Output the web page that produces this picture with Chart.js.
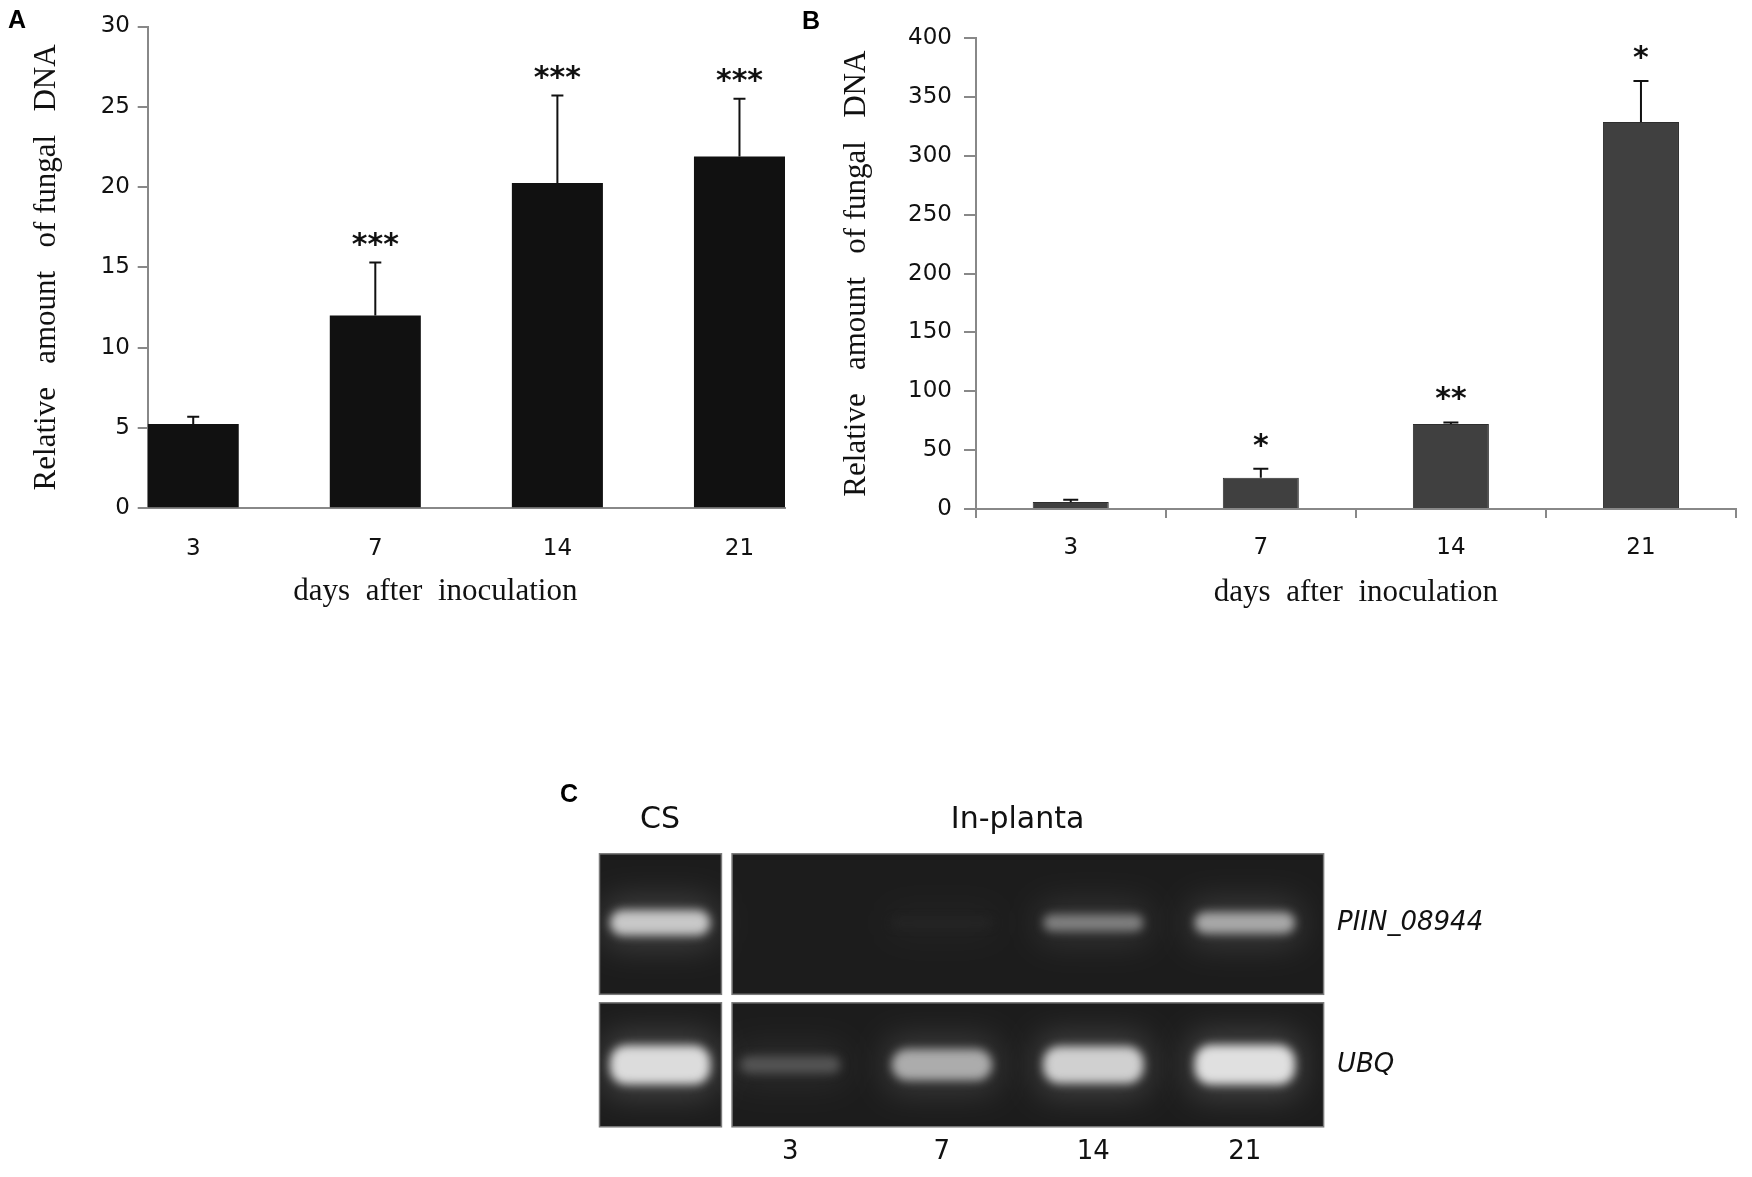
<!DOCTYPE html>
<html>
<head>
<meta charset="utf-8">
<script src="https://cdn.jsdelivr.net/npm/chart.js@4.4.1/dist/chart.umd.min.js"></script>
<style>
  body { margin: 0; background: #fff; width: 1752px; height: 1177px; position: relative; overflow: hidden; }
  .panel { position: absolute; }
  .tag { position: absolute; font: bold 25px "Liberation Sans", Arial, sans-serif; line-height: 25px; color: #000; }
</style>
</head>
<body>
<div class="panel" style="left:0;top:0;width:800px;height:620px"><canvas id="chartA"></canvas></div>
<div class="panel" style="left:800px;top:0;width:952px;height:620px"><canvas id="chartB"></canvas></div>
<div class="panel" style="left:540px;top:770px;width:1012px;height:407px"><canvas id="gelC"></canvas></div>
<div class="tag" style="left:8px;top:7px">A</div>
<div class="tag" style="left:802px;top:8px">B</div>
<div class="tag" style="left:560px;top:781px">C</div>

<script>
// x categories (days after inoculation)
const days = ['3', '7', '14', '21'];

// panel A
const fungalDnaA = [5.25, 12.0, 20.25, 21.9];
const fungalDnaSdA = [0.45, 3.3, 5.45, 3.6];
const signifA = ['', '***', '***', '***'];

// panel B
const fungalDnaB = [6.0, 26.6, 72.3, 328.8];
const fungalDnaSdB = [1.9, 7.7, 1.3, 35.0];
const signifB = ['', '*', '**', '*'];

// panel C (gel), band brightness 0..1 per lane
const gelLanes = ['CS', '3', '7', '14', '21'];
const gelGroups = ['CS', 'In-planta'];
const gelGenes = ['PIIN_08944', 'UBQ'];
const piinBands = [0.86, 0, 0.05, 0.5, 0.7];
const ubqBands = [0.96, 0.28, 0.72, 0.9, 0.98];

// layout of the gel panel, in lane units
const GEL_MIN = -0.26, GEL_MAX = 4.52, CS_POS = 0.14;
const GEL_ROWS = [2.04, 0.62];
const GEL_BG = 28;

const axisGrey = '#888';
const sans = "'DejaVu Sans', sans-serif";
const serif = "'Liberation Serif', 'Times New Roman', serif";
const tickFont = { family: sans, size: 23 };
const titleFont = { family: serif, size: 31 };

Chart.defaults.color = '#111';

const errorBars = {
    id: 'errorBars',
    afterDatasetsDraw(chart, args, opts) {
        const { ctx } = chart;
        const y = chart.scales.y;
        const ds = chart.data.datasets[0];
        const meta = chart.getDatasetMeta(0);
        ctx.save();
        ctx.strokeStyle = '#111';
        ctx.fillStyle = '#111';
        ctx.lineWidth = 2;
        ctx.font = `bold 30px ${sans}`;
        ctx.textAlign = 'center';
        ctx.textBaseline = 'alphabetic';
        meta.data.forEach((bar, i) => {
            const top = y.getPixelForValue(meta._parsed[i].y + ds.sd[i]);
            ctx.beginPath();
            ctx.moveTo(bar.x, bar.y);
            ctx.lineTo(bar.x, top);
            ctx.moveTo(bar.x - opts.cap / 2, top);
            ctx.lineTo(bar.x + opts.cap / 2, top);
            ctx.stroke();
            if (ds.signif[i]) ctx.fillText(ds.signif[i], bar.x, top - opts.gap + 16);
        });
        ctx.restore();
    }
};

function pill(ctx, x, y, w, h) {
    ctx.beginPath();
    ctx.roundRect(x, y, w, h, Math.min(h / 2, 16));
    ctx.fill();
}

function drawBand(ctx, cx, cy, level, laneW, thick) {
    const w = laneW * 0.66;
    const h = (8 + 32 * level) * thick;
    const g = Math.round(GEL_BG + 200 * level);
    ctx.fillStyle = `rgb(${g},${g},${g})`;
    // soft halo around the band
    ctx.globalCompositeOperation = 'lighter';
    ctx.filter = 'blur(16px)';
    ctx.globalAlpha = 0.18;
    pill(ctx, cx - w / 2 - 6, cy - h / 2 - 12, w + 12, h + 24);
    // band core
    ctx.globalCompositeOperation = 'source-over';
    ctx.filter = 'blur(5px)';
    ctx.globalAlpha = 1;
    pill(ctx, cx - w / 2, cy - h / 2, w, h);
    ctx.filter = 'none';
}

const gelPlate = {
    id: 'gelPlate',
    beforeDatasetsDraw(chart) {
        const { ctx, scales: { x, y } } = chart;
        const panels = [];
        [[GEL_MIN, 0.545], [0.615, GEL_MAX]].forEach(([x0, x1]) => {
            [[0, 1.24], [1.325, 2.73]].forEach(([y0, y1]) => {
                const l = x.getPixelForValue(x0), r = x.getPixelForValue(x1);
                const t = y.getPixelForValue(y1), b = y.getPixelForValue(y0);
                panels.push({ l, t, w: r - l, h: b - t });
            });
        });

        ctx.save();
        ctx.fillStyle = `rgb(${GEL_BG},${GEL_BG},${GEL_BG})`;
        panels.forEach(p => ctx.fillRect(p.l, p.t, p.w, p.h));
        ctx.beginPath();
        panels.forEach(p => ctx.rect(p.l, p.t, p.w, p.h));
        ctx.clip();
        const laneW = x.getPixelForValue(2) - x.getPixelForValue(1);
        chart.data.datasets.forEach((ds, di) => {
            chart.getDatasetMeta(di).data.forEach((pt, i) => {
                const level = ds.data[i].level;
                if (level > 0) drawBand(ctx, pt.x, pt.y, level, laneW, ds.thickness);
            });
        });
        ctx.restore();

        ctx.save();
        ctx.strokeStyle = '#7a7a7a';
        ctx.lineWidth = 1.5;
        panels.forEach(p => ctx.strokeRect(p.l, p.t, p.w, p.h));
        ctx.restore();
    }
};

const baseOptions = {
    responsive: true,
    maintainAspectRatio: false,
    animation: false,
    devicePixelRatio: 1,
    events: []
};

// A
new Chart(document.getElementById('chartA'), {
    type: 'bar',
    data: {
        datasets: [{
            data: days.map((d, i) => ({ x: i, y: fungalDnaA[i] })),
            backgroundColor: '#111',
            categoryPercentage: 1,
            barPercentage: 0.5,
            sd: fungalDnaSdA,
            signif: signifA
        }]
    },
    options: {
        ...baseOptions,
        layout: { padding: { left: 0, top: 26.5, right: 15, bottom: 0 } },
        plugins: { legend: { display: false }, tooltip: { enabled: false }, errorBars: { cap: 12, gap: 25 } },
        scales: {
            x: {
                type: 'linear', min: -0.25, max: 3.25, offset: false,
                afterBuildTicks: s => { s.ticks = days.map((d, i) => ({ value: i })); },
                afterFit: s => { s.height = 111.7; },
                ticks: { callback: v => days[Math.round(v)], font: tickFont, padding: 27, maxRotation: 0, autoSkip: false },
                grid: { drawOnChartArea: false, drawTicks: false },
                border: { color: axisGrey, width: 2 },
                title: { display: true, text: 'days  after  inoculation        ', font: titleFont, padding: { top: 0, bottom: 9.4 } }
            },
            y: {
                min: 0, max: 30,
                afterFit: s => { s.width = 147.7; },
                ticks: { stepSize: 5, font: tickFont, padding: 7.7 },
                grid: { drawOnChartArea: false, drawTicks: true, tickLength: 10, color: axisGrey, lineWidth: 2 },
                border: { color: axisGrey, width: 2 },
                title: { display: true, text: 'Relative   amount   of fungal   DNA', font: titleFont, padding: { top: 27.9, bottom: 0 } }
            }
        }
    },
    plugins: [errorBars]
});

// B
new Chart(document.getElementById('chartB'), {
    type: 'bar',
    data: {
        labels: days,
        datasets: [{
            data: fungalDnaB,
            backgroundColor: '#404040',
            borderColor: '#2e2e2e',
            borderWidth: 1,
            categoryPercentage: 0.8,
            barPercentage: 0.5,
            sd: fungalDnaSdB,
            signif: signifB
        }]
    },
    options: {
        ...baseOptions,
        layout: { padding: { left: 0, top: 38.3, right: 16, bottom: 0 } },
        plugins: { legend: { display: false }, tooltip: { enabled: false }, errorBars: { cap: 15, gap: 30 } },
        scales: {
            x: {
                offset: true,
                afterFit: s => { s.height = 111; },
                ticks: { font: tickFont, padding: 16.3, maxRotation: 0 },
                grid: { offset: true, drawOnChartArea: false, drawTicks: true, tickLength: 9, color: axisGrey, lineWidth: 2 },
                border: { color: axisGrey, width: 2 },
                title: { display: true, text: 'days  after  inoculation', font: titleFont, padding: { top: 0, bottom: 8.4 } }
            },
            y: {
                min: 0, max: 400,
                afterFit: s => { s.width = 175.7; },
                ticks: { stepSize: 50, font: tickFont, padding: 12 },
                grid: { drawOnChartArea: false, drawTicks: true, tickLength: 11.7, color: axisGrey, lineWidth: 2 },
                border: { color: axisGrey, width: 2 },
                title: { display: true, text: 'Relative   amount   of fungal   DNA', font: titleFont, padding: { top: 38.4, bottom: 0 } }
            }
        }
    },
    plugins: [errorBars]
});

// C
new Chart(document.getElementById('gelC'), {
    type: 'scatter',
    data: {
        datasets: [piinBands, ubqBands].map((levels, r) => ({
            label: gelGenes[r],
            data: gelLanes.map((lane, i) => ({ x: i === 0 ? CS_POS : i, y: GEL_ROWS[r], level: levels[i] })),
            pointRadius: 0,
            thickness: r === 0 ? 0.7 : 1
        }))
    },
    options: {
        ...baseOptions,
        layout: { padding: { left: 59.5, top: 0, right: 0, bottom: 0 } },
        plugins: { legend: { display: false }, tooltip: { enabled: false } },
        scales: {
            x: {
                type: 'linear', position: 'bottom', min: GEL_MIN, max: GEL_MAX,
                afterBuildTicks: s => { s.ticks = [1, 2, 3, 4].map(v => ({ value: v })); },
                afterFit: s => { s.height = 50.2; },
                ticks: { callback: v => gelLanes[Math.round(v)], font: { family: sans, size: 26 }, padding: 9.6, color: '#111', maxRotation: 0, autoSkip: false },
                grid: { display: false, drawTicks: false },
                border: { display: false }
            },
            xTop: {
                type: 'linear', position: 'top', min: GEL_MIN, max: GEL_MAX,
                afterBuildTicks: s => { s.ticks = [{ value: CS_POS }, { value: 2.5 }]; },
                afterFit: s => { s.height = 83.8; },
                ticks: { callback: (v, i) => gelGroups[i], font: { family: sans, size: 30 }, padding: 16, color: '#111', maxRotation: 0, autoSkip: false },
                grid: { display: false, drawTicks: false },
                border: { display: false }
            },
            y: {
                position: 'right', min: 0, max: 2.73,
                afterBuildTicks: s => { s.ticks = GEL_ROWS.map(v => ({ value: v })); },
                afterFit: s => { s.width = 228.4; },
                ticks: { callback: (v, i) => gelGenes[i], font: { family: sans, size: 26, style: 'italic' }, padding: 13.4, color: '#111', autoSkip: false },
                grid: { display: false, drawTicks: false },
                border: { display: false }
            }
        }
    },
    plugins: [gelPlate]
});
</script>
</body>
</html>
